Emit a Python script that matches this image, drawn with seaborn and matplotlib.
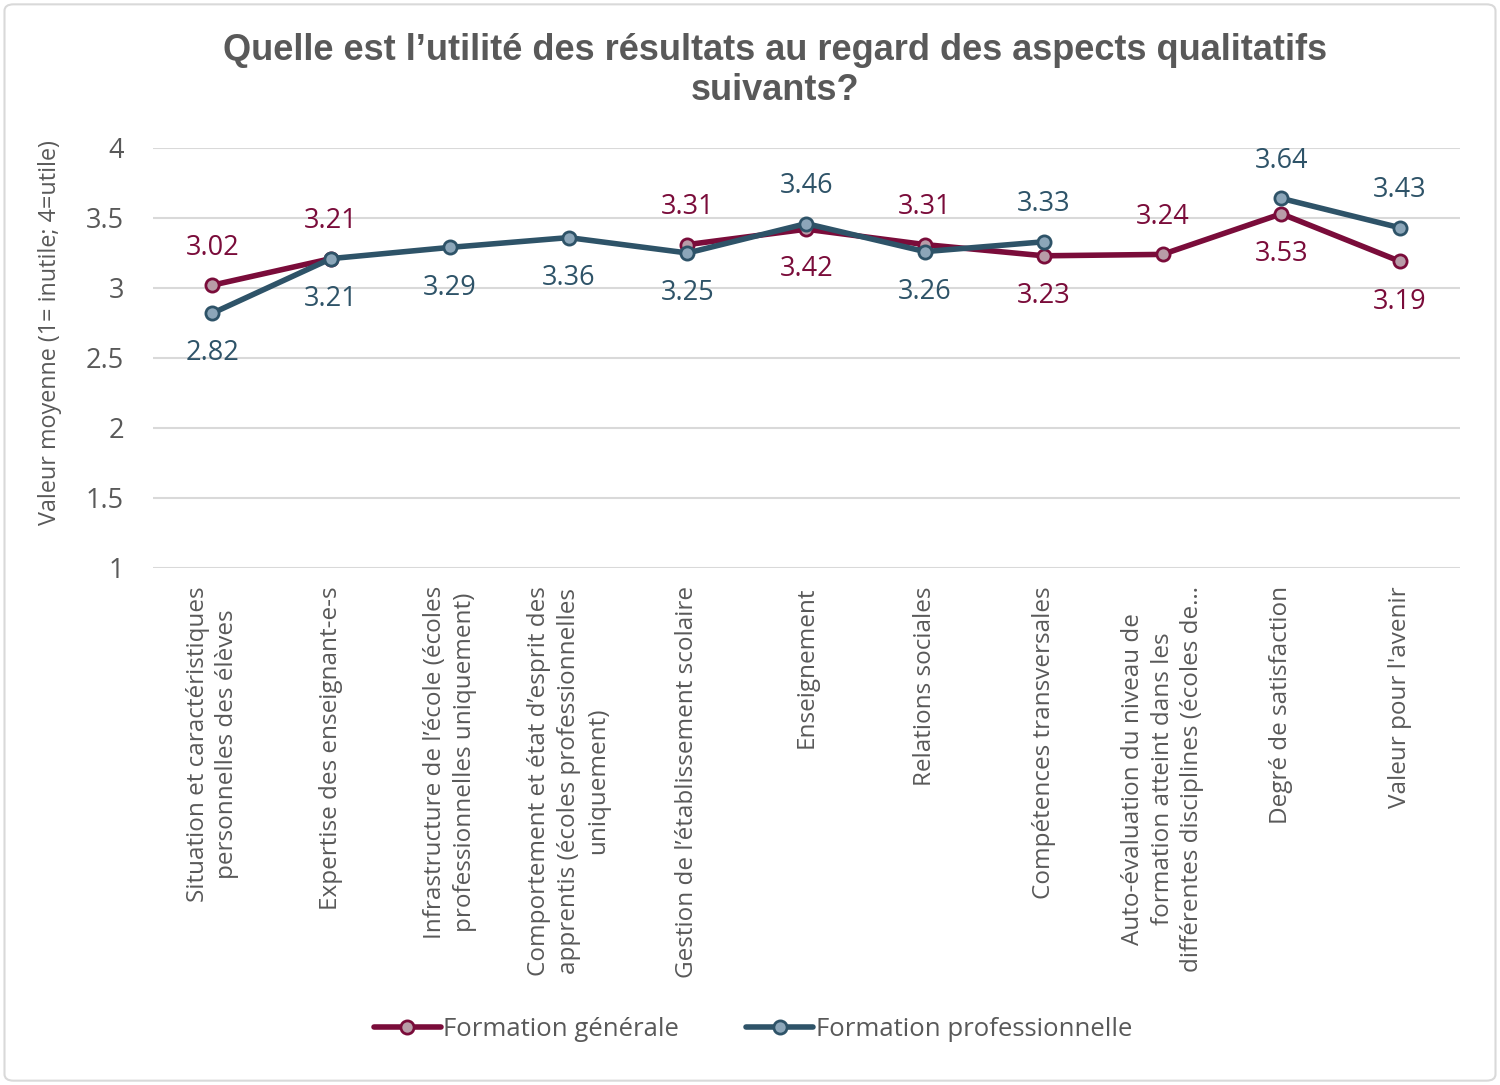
import numpy as np
import pandas as pd
import matplotlib
matplotlib.use("Agg")
import matplotlib.pyplot as plt
import seaborn as sns
from matplotlib.lines import Line2D
from matplotlib.patches import FancyBboxPatch

categories = [
    "Situation et caractéristiques\npersonnelles des élèves",
    "Expertise des enseignant-e-s",
    "Infrastructure de l’école (écoles\nprofessionnelles uniquement)",
    "Comportement et état d’esprit des\napprentis (écoles professionnelles\nuniquement)",
    "Gestion de l’établissement scolaire",
    "Enseignement",
    "Relations sociales",
    "Compétences transversales",
    "Auto-évaluation du niveau de\nformation atteint dans les\ndifférentes disciplines (écoles de…",
    "Degré de satisfaction",
    "Valeur pour l'avenir",
]
generale = [3.02, 3.21, np.nan, np.nan, 3.31, 3.42, 3.31, 3.23, 3.24, 3.53, 3.19]
professionnelle = [2.82, 3.21, 3.29, 3.36, 3.25, 3.46, 3.26, 3.33, np.nan, 3.64, 3.43]
series_names = ["Formation générale", "Formation professionnelle"]
label_pos_generale = ["above", "above", None, None, "above", "below", "above", "below", "above", "below", "below"]
label_pos_prof = ["below", "below", "below", "below", "below", "above", "below", "above", None, "above", "above"]
yticks = [1, 1.5, 2, 2.5, 3, 3.5, 4]
title = "Quelle est l’utilité des résultats au regard des aspects qualitatifs\nsuivants?"
ylabel = "Valeur moyenne (1= inutile; 4=utile)"

sns.set_theme(style="white")
plt.rcParams["font.family"] = ["Open Sans", "DejaVu Sans"]
GREY = "#595959"

fig = plt.figure(figsize=(15, 10.85), dpi=100)
ax = fig.add_axes([0.102, 0.4765, 0.871, 0.3871])

styles = [
    dict(color="#7A0C3A", mfc="#B89CA8", mec="#7A0C3A"),
    dict(color="#2E5368", mfc="#8CA6B9", mec="#2E5368"),
]
all_series = [generale, professionnelle]
positions = [label_pos_generale, label_pos_prof]

x = np.arange(len(categories))
for vals, st in zip(all_series, styles):
    v = np.array(vals, dtype=float)
    valid = ~np.isnan(v)
    seg = np.cumsum(~valid)  # segment id changes at each gap
    df = pd.DataFrame({"x": x, "y": v, "seg": seg})[valid]
    sns.lineplot(data=df, x="x", y="y", units="seg", estimator=None, ax=ax,
                 color=st["color"], linewidth=4, marker="o", markersize=9.5,
                 markerfacecolor=st["mfc"], markeredgecolor=st["mec"],
                 markeredgewidth=2, legend=False, zorder=3)

for vals, pos, st in zip(all_series, positions, styles):
    for i, (val, p) in enumerate(zip(vals, pos)):
        if p is None or np.isnan(val):
            continue
        dy = 27 if p == "above" else -29
        ax.annotate(f"{val:.2f}", (i, val), xytext=(0, dy), textcoords="offset points",
                    ha="center", va="center", fontsize=19.5, color=st["color"])

ax.set_xlim(-0.5, len(categories) - 0.5)
ax.set_ylim(1, 4)
ax.set_yticks(yticks)
ax.set_yticklabels([f"{t:g}" for t in yticks], fontsize=19.5, color=GREY)
ax.set_xticks(x)
ax.set_xticklabels(categories, rotation=90, fontsize=17.5, color=GREY,
                   ha="center", va="top", multialignment="center",
                   linespacing=1.32)
ax.tick_params(axis="y", length=0, pad=21)
ax.tick_params(axis="x", length=0, pad=13)
ax.yaxis.grid(True, color="#D9D9D9", linewidth=1.5)
ax.set_axisbelow(True)
for s in ax.spines.values():
    s.set_visible(False)
ax.set_xlabel("")
ax.set_ylabel(ylabel, fontsize=16.8, color=GREY)
ax.yaxis.set_label_coords(-0.07, 0.56)

fig.text(0.517, 0.970, title, ha="center", va="top", fontsize=26, fontweight="bold",
         color=GREY, family=["Liberation Sans", "DejaVu Sans"], linespacing=1.2)

handles = [Line2D([0], [0], color=st["color"], linewidth=4, marker="o", markersize=9.5,
                  markerfacecolor=st["mfc"], markeredgecolor=st["mec"], markeredgewidth=2)
           for st in styles]
leg = fig.legend(handles, series_names, loc="center", bbox_to_anchor=(0.502, 0.051), ncol=2,
                 frameon=False, fontsize=18.5, handlelength=2.6, handletextpad=0.1,
                 columnspacing=2.6)
for t in leg.get_texts():
    t.set_color(GREY)

fig.patches.append(FancyBboxPatch((0.003, 0.004), 0.994, 0.992, boxstyle="round,pad=0,rounding_size=0.006",
                                  transform=fig.transFigure, fill=False, edgecolor="#D9D9D9", linewidth=1.5))

fig.savefig("out.png", dpi=100)
